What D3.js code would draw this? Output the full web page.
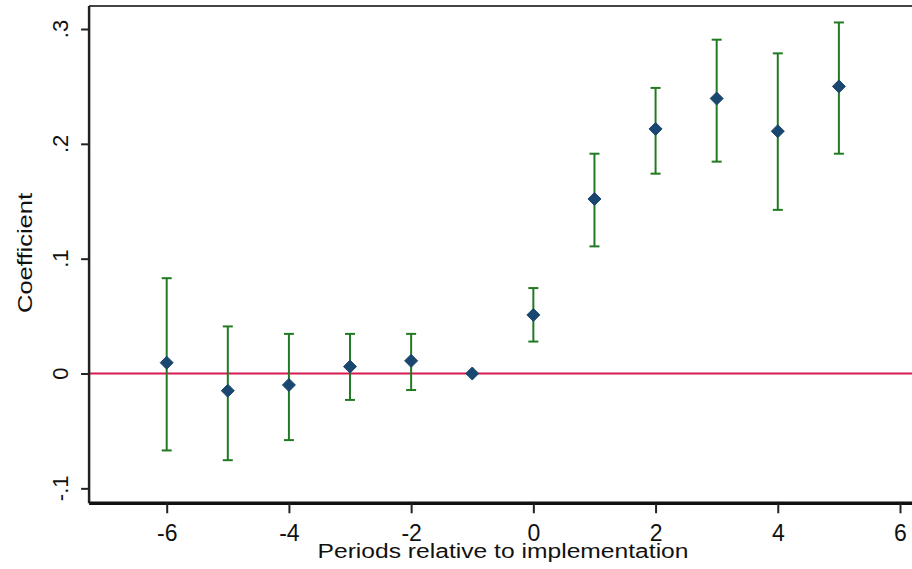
<!DOCTYPE html>
<html lang="en">
<head>
<meta charset="utf-8">
<title>Event study coefficients</title>
<script src="https://cdnjs.cloudflare.com/ajax/libs/d3/7.8.5/d3.min.js"></script>
<style>
  body { margin: 0; background: #fff; }
  text { font-family: Arial, "Liberation Sans", sans-serif; fill: #111; }
</style>
</head>
<body>
<script>
// data
var periods = [-6, -5, -4, -3, -2, -1, 0, 1, 2, 3, 4, 5];
var coef    = [0.0094, -0.015, -0.010, 0.006, 0.011, 0, 0.051, 0.152, 0.213, 0.2395, 0.211, 0.250];
var upper   = [0.083, 0.041, 0.0345, 0.0345, 0.0345, null, 0.0744, 0.1914, 0.2487, 0.2907, 0.2788, 0.3057];
var lower   = [-0.067, -0.0755, -0.058, -0.023, -0.0144, null, 0.0278, 0.1107, 0.174, 0.1845, 0.1425, 0.1914];
var xTicks = [-6, -4, -2, 0, 2, 4, 6];
var yTicks = [-0.1, 0, 0.1, 0.2, 0.3];
var yTickLabels = ["-.1", "0", ".1", ".2", ".3"];

var width = 912, height = 569;

var x = d3.scaleLinear().domain([-6, 6]).range([166.7, 900]);
var y = d3.scaleLinear().domain([0, 0.3]).range([373.5, 29]);

// plot region edges (in data units)
var plotLeft = x(-7.27), plotBottom = y(-0.113), plotTop = y(0.32);

var svg = d3.select("body").append("svg")
    .attr("width", width)
    .attr("height", height);

// frame top line
svg.append("line")
    .attr("x1", plotLeft).attr("x2", width)
    .attr("y1", plotTop).attr("y2", plotTop)
    .attr("stroke", "#444").attr("stroke-width", 2);

// zero reference line
svg.append("line")
    .attr("x1", plotLeft).attr("x2", width)
    .attr("y1", y(0)).attr("y2", y(0))
    .attr("stroke", "#d81b4f").attr("stroke-width", 1.8);

// y axis
var yAxis = svg.append("g")
    .attr("transform", "translate(" + plotLeft + ",0)")
    .call(d3.axisLeft(y).tickValues(yTicks).tickSize(8).tickFormat(""));
yAxis.select(".domain").attr("d", "M0," + plotTop + "V" + plotBottom)
    .attr("stroke", "#222").attr("stroke-width", 2.5);
yAxis.selectAll(".tick line").attr("stroke", "#222").attr("stroke-width", 2);

svg.selectAll(".ylab")
    .data(yTicks)
    .enter().append("text")
    .attr("class", "ylab")
    .attr("transform", function(d) { return "translate(68," + y(d) + ") rotate(-90)"; })
    .attr("text-anchor", "middle")
    .style("font-size", "22px")
    .text(function(d, i) { return yTickLabels[i]; });

// x axis
var xAxis = svg.append("g")
    .attr("transform", "translate(0," + plotBottom + ")")
    .call(d3.axisBottom(x).tickValues(xTicks).tickSize(10)
      .tickFormat(function(d) { return d; }));
xAxis.select(".domain").attr("d", "M" + plotLeft + ",0H" + width)
    .attr("stroke", "#111").attr("stroke-width", 3.5);
xAxis.selectAll(".tick line").attr("stroke", "#222").attr("stroke-width", 2);
xAxis.selectAll(".tick text")
    .attr("y", 541 - plotBottom)
    .attr("dy", 0)
    .style("font-size", "23px")
    .style("font-family", "Arial, 'Liberation Sans', sans-serif")
    .attr("fill", "#111");

// axis titles
svg.append("text")
    .attr("x", 503).attr("y", 558)
    .attr("text-anchor", "middle")
    .attr("textLength", 371)
    .attr("lengthAdjust", "spacingAndGlyphs")
    .style("font-size", "20px")
    .text("Periods relative to implementation");

svg.append("text")
    .attr("transform", "translate(32,253) rotate(-90)")
    .attr("text-anchor", "middle")
    .attr("textLength", 120)
    .attr("lengthAdjust", "spacingAndGlyphs")
    .style("font-size", "20px")
    .text("Coefficient");

// error bars
var idx = d3.range(periods.length).filter(function(i) { return upper[i] !== null; });
var bars = svg.selectAll(".ci")
    .data(idx)
    .enter().append("g")
    .attr("class", "ci")
    .attr("stroke", "#217a21")
    .attr("stroke-width", 2);
bars.append("line")
    .attr("x1", function(i) { return x(periods[i]); })
    .attr("x2", function(i) { return x(periods[i]); })
    .attr("y1", function(i) { return y(upper[i]); })
    .attr("y2", function(i) { return y(lower[i]); });
bars.append("line")
    .attr("x1", function(i) { return x(periods[i]) - 5; })
    .attr("x2", function(i) { return x(periods[i]) + 5; })
    .attr("y1", function(i) { return y(upper[i]); })
    .attr("y2", function(i) { return y(upper[i]); });
bars.append("line")
    .attr("x1", function(i) { return x(periods[i]) - 5; })
    .attr("x2", function(i) { return x(periods[i]) + 5; })
    .attr("y1", function(i) { return y(lower[i]); })
    .attr("y2", function(i) { return y(lower[i]); });

// point estimates
svg.selectAll(".pt")
    .data(periods)
    .enter().append("path")
    .attr("class", "pt")
    .attr("d", "M0,-6.5L6.5,0L0,6.5L-6.5,0Z")
    .attr("transform", function(d, i) { return "translate(" + x(d) + "," + y(coef[i]) + ")"; })
    .attr("fill", "#1a476f")
    .attr("stroke", "#1a476f")
    .attr("stroke-width", 1)
    .attr("stroke-linejoin", "round");
</script>
</body>
</html>
